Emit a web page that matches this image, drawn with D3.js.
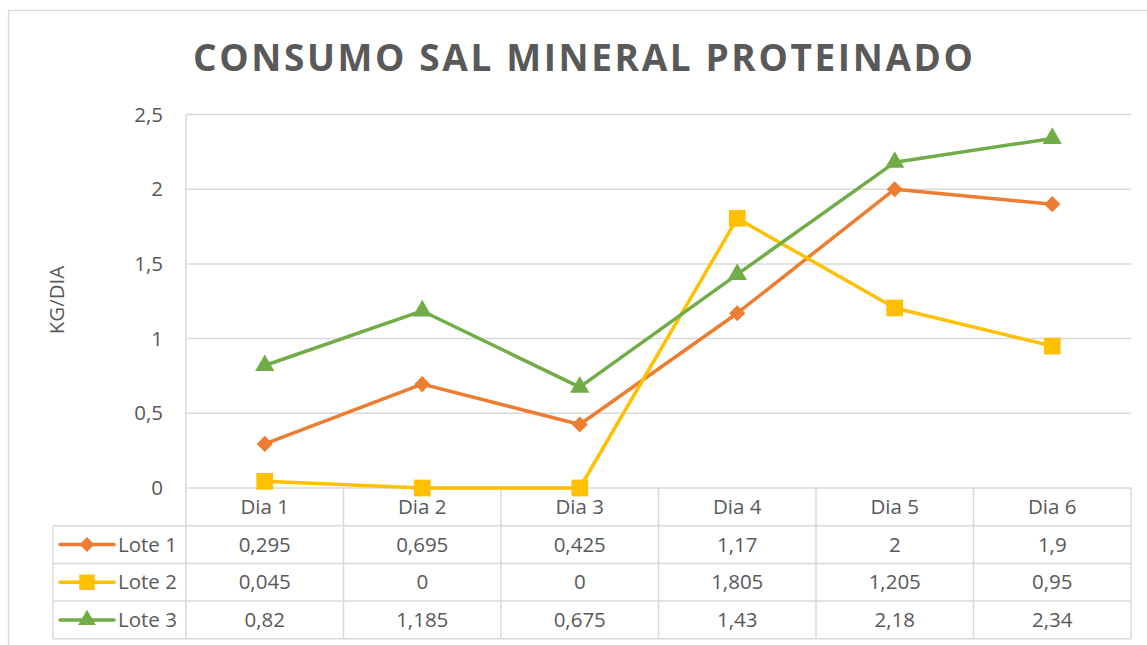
<!DOCTYPE html>
<html>
<head>
<meta charset="utf-8">
<script src="https://cdn.jsdelivr.net/npm/d3@7"></script>
<style>
    body { margin: 0; background: #fff; }
    text { font-family: "Open Sans", sans-serif; fill: #595959; }
</style>
</head>
<body>
<div id="chart"></div>
<script>
// Chart data
const days = ["Dia 1", "Dia 2", "Dia 3", "Dia 4", "Dia 5", "Dia 6"];
const seriesNames = ["Lote 1", "Lote 2", "Lote 3"];
const lote1 = [0.295, 0.695, 0.425, 1.17, 2, 1.9];
const lote2 = [0.045, 0, 0, 1.805, 1.205, 0.95];
const lote3 = [0.82, 1.185, 0.675, 1.43, 2.18, 2.34];
const yTicks = [0, 0.5, 1, 1.5, 2, 2.5];
const titleText = "CONSUMO SAL MINERAL PROTEINADO";
const yLabel = "KG/DIA";

const seriesValues = [lote1, lote2, lote3];
const colors = ["#ED7D31", "#FFC000", "#70AD47"];
const symbols = [d3.symbolSquare, d3.symbolSquare, d3.symbolTriangle];
const symbolSizes = [130, 280, 160];
const symbolRotate = [45, 0, 0];

const width = 1147, height = 645;
const plotLeft = 186, plotRight = 1131, plotTop = 114.5, plotBottom = 488;
const tableLeft = 53, rowHeight = 37.7;
const gridColor = "#d9d9d9";
const fontSize = 20.5;

const svg = d3.select("#chart").append("svg")
    .attr("width", width)
    .attr("height", height);

// Outer chart border
svg.append("rect")
    .attr("x", 8.5).attr("y", 10.5)
    .attr("width", 1160).attr("height", 700)
    .attr("fill", "none")
    .attr("stroke", gridColor)
    .attr("stroke-width", 1.3);

const x = d3.scaleBand().domain(days).range([plotLeft, plotRight]);
const y = d3.scaleLinear().domain([0, 2.5]).range([plotBottom, plotTop]);
const fmt = (v) => String(v).replace(".", ",");

// Title
svg.append("text")
    .attr("x", 583).attr("y", 71)
    .attr("text-anchor", "middle")
    .attr("font-size", 37)
    .attr("font-weight", "bold")
    .attr("textLength", 780)
    .attr("lengthAdjust", "spacing")
    .text(titleText);

// Horizontal gridlines
svg.selectAll(".grid")
    .data(yTicks)
    .enter()
    .append("line")
    .attr("class", "grid")
    .attr("x1", plotLeft).attr("x2", plotRight)
    .attr("y1", (d) => y(d)).attr("y2", (d) => y(d))
    .attr("stroke", gridColor)
    .attr("stroke-width", 1.5);

// Y tick labels
svg.selectAll(".ytick")
    .data(yTicks)
    .enter()
    .append("text")
    .attr("class", "ytick")
    .attr("x", 163)
    .attr("y", (d) => y(d) + 7)
    .attr("text-anchor", "end")
    .attr("font-size", fontSize)
    .text((d) => fmt(d));

// Y axis title
svg.append("text")
    .attr("transform", "translate(64,300) rotate(-90)")
    .attr("text-anchor", "middle")
    .attr("font-size", fontSize)
    .text(yLabel);

// Data table
const rowY = (i) => plotBottom + rowHeight * i;
const tableBottom = rowY(4);

// horizontal table lines
svg.selectAll(".trow")
    .data([1, 2, 3, 4])
    .enter()
    .append("line")
    .attr("class", "trow")
    .attr("x1", tableLeft).attr("x2", plotRight)
    .attr("y1", (d) => rowY(d)).attr("y2", (d) => rowY(d))
    .attr("stroke", gridColor)
    .attr("stroke-width", 1.5);

// vertical table lines
const colEdges = days.map((d) => x(d)).concat([plotRight]);
svg.selectAll(".tcol")
    .data(colEdges)
    .enter()
    .append("line")
    .attr("class", "tcol")
    .attr("x1", (d) => d).attr("x2", (d) => d)
    .attr("y1", (d, i) => i === 0 ? plotTop : plotBottom)
    .attr("y2", tableBottom)
    .attr("stroke", gridColor)
    .attr("stroke-width", 1.5);

svg.append("line")
    .attr("x1", tableLeft).attr("x2", tableLeft)
    .attr("y1", rowY(1)).attr("y2", tableBottom)
    .attr("stroke", gridColor)
    .attr("stroke-width", 1.5);

// header labels
svg.selectAll(".thead")
    .data(days)
    .enter()
    .append("text")
    .attr("class", "thead")
    .attr("x", (d) => x(d) + x.bandwidth() / 2)
    .attr("y", rowY(0) + rowHeight / 2 + 7)
    .attr("text-anchor", "middle")
    .attr("font-size", fontSize)
    .text((d) => d);

// rows
seriesValues.forEach((vals, s) => {
    const cy = rowY(s + 1) + rowHeight / 2;
    const g = svg.append("g");

    // legend key
    g.append("line")
        .attr("x1", 60).attr("x2", 114)
        .attr("y1", cy).attr("y2", cy)
        .attr("stroke", colors[s])
        .attr("stroke-width", 3.5)
        .attr("stroke-linecap", "round");
    g.append("path")
        .attr("d", d3.symbol().type(symbols[s]).size(symbolSizes[s] * 0.85)())
        .attr("transform", `translate(87,${cy}) rotate(${symbolRotate[s]})`)
        .attr("fill", colors[s]);
    g.append("text")
        .attr("x", 118).attr("y", cy + 7)
        .attr("font-size", fontSize)
        .text(seriesNames[s]);

    g.selectAll(".cell")
        .data(vals)
        .enter()
        .append("text")
        .attr("x", (d, i) => x(days[i]) + x.bandwidth() / 2)
        .attr("y", cy + 7)
        .attr("text-anchor", "middle")
        .attr("font-size", fontSize)
        .text((d) => fmt(d));
});

// Lines and markers
const line = d3.line()
    .x((d, i) => x(days[i]) + x.bandwidth() / 2)
    .y((d) => y(d));

seriesValues.forEach((vals, s) => {
    svg.append("path")
        .datum(vals)
        .attr("d", line)
        .attr("fill", "none")
        .attr("stroke", colors[s])
        .attr("stroke-width", 3.5)
        .attr("stroke-linejoin", "round");

    svg.selectAll(".mark" + s)
        .data(vals)
        .enter()
        .append("path")
        .attr("class", "mark" + s)
        .attr("d", d3.symbol().type(symbols[s]).size(symbolSizes[s])())
        .attr("transform", (d, i) => `translate(${x(days[i]) + x.bandwidth() / 2},${y(d)}) rotate(${symbolRotate[s]})`)
        .attr("fill", colors[s]);
});
</script>
</body>
</html>
